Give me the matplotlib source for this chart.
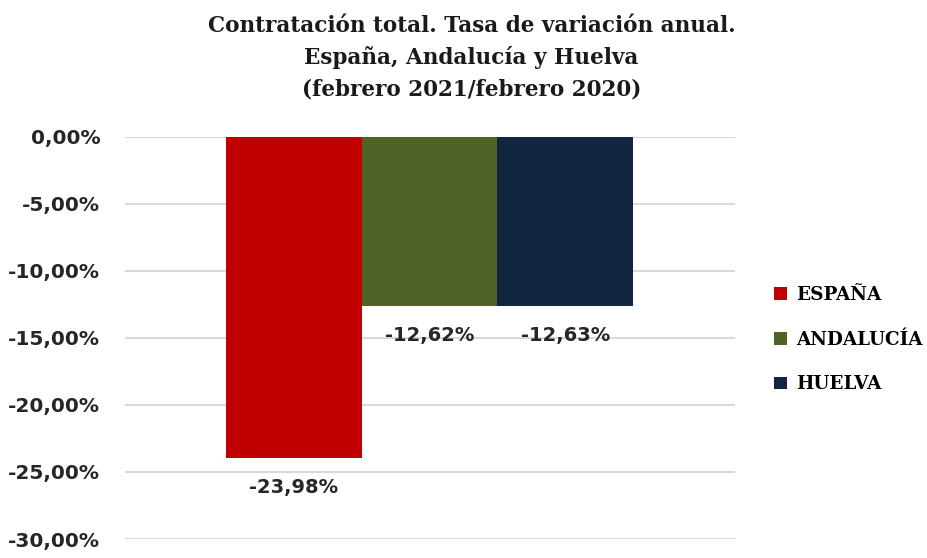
import matplotlib.pyplot as plt
from matplotlib.ticker import FuncFormatter

series = ["ESPAÑA", "ANDALUCÍA", "HUELVA"]
values = [-23.98, -12.62, -12.63]
colors = ["#c00000", "#4f6228", "#10253f"]
yticks = [0, -5, -10, -15, -20, -25, -30]

fig = plt.figure(figsize=(9.28, 5.58), dpi=100)
ax = fig.add_axes([0.135, 0.034, 0.657, 0.721])

for i, (name, v, c) in enumerate(zip(series, values, colors)):
    ax.bar(i - 1, v, width=1.0, color=c, label=name, zorder=2)
    ax.text(i - 1, v - 2.2, f"{v:.2f}%".replace(".", ","), ha="center", va="center",
            fontsize=14, fontweight="bold", color="#262626", family="DejaVu Sans")

ax.set_xlim(-2.24, 2.25)
ax.set_ylim(-30, 0)
ax.set_yticks(yticks)
ax.yaxis.set_major_formatter(FuncFormatter(lambda v, p: f"{v:.2f}%".replace(".", ",")))
ax.set_xticks([])
ax.grid(axis="y", color="#d9d9d9", linewidth=1.5, zorder=0)
for s in ax.spines.values():
    s.set_visible(False)
ax.tick_params(axis="y", length=0, pad=18, labelsize=14.5, labelcolor="#262626")
for t in ax.get_yticklabels():
    t.set_fontweight("bold")
    t.set_family("DejaVu Sans")

fig.text(0.508, 0.897, "Contratación total. Tasa de variación anual.\nEspaña, Andalucía y Huelva\n(febrero 2021/febrero 2020)",
         ha="center", va="center", fontsize=15.5, fontweight="bold", family="DejaVu Serif",
         linespacing=1.52, color="#1a1a1a")

leg = fig.legend(loc="center left", bbox_to_anchor=(0.816, 0.391), frameon=False,
                 prop={"family": "DejaVu Serif", "weight": "bold", "size": 13.2},
                 handlelength=0.7, handleheight=0.7, handletextpad=0.5, labelspacing=1.45)

fig.savefig("out.png", dpi=100)
